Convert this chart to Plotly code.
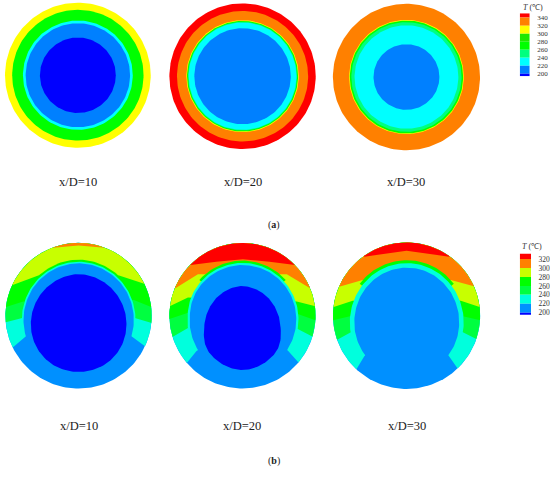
import numpy as np
import plotly.graph_objects as go

W, H = 550, 477
RED, ORANGE, YELLOW, YGREEN = "#ff0000", "#ff8000", "#ffff00", "#c8ff00"
GREEN, LIME, SPRING, AQUA, CYAN = "#00ff00", "#20e800", "#00ff80", "#00ffdd", "#00ffff"
SPRING_B, BLUE_A, BLUE_B, DARK = "#00ff40", "#0080ff", "#0090ff", "#0000ff"

CASES = ["x/D=10", "x/D=20", "x/D=30"]

# Panel (a): concentric bands, outermost first
A_CX = [78.0, 243.0, 407.2]
A_CY = [75.7, 76.7, 77.5]
A1_R = [73.0, 65.8, 55.0, 52.3, 38.0]
A1_C = [YELLOW, GREEN, CYAN, BLUE_A, DARK]
A2_R = [73.3, 65.7, 56.3, 55.6, 54.6, 54.0, 48.3]
A2_C = [RED, ORANGE, YELLOW, GREEN, SPRING, CYAN, BLUE_A]
A3_R = [73.7, 57.5, 56.8, 55.2, 52.0, 33.0]
A3_C = [ORANGE, YELLOW, GREEN, SPRING, CYAN, BLUE_A]

# Panel (b): discs
B_CX = [78.7, 242.9, 407.3]
B_CY = [317.7, 317.7, 317.7]
B_R = [73.3, 73.2, 73.7]

# Panel (b): isotherm chains, left rim to right rim
B1_AQUA_X = [13.3, 26.0, 131.7, 145.0]
B1_AQUA_Y = [349.3, 338.3, 338.3, 348.3]
B1_SPRING_X = [5.7, 22.3, 135.0, 152.0]
B1_SPRING_Y = [324.3, 320.0, 320.0, 325.0]
B1_GREEN_X = [6.0, 23.3, 134.0, 151.5]
B1_GREEN_Y = [309.0, 303.3, 302.0, 309.0]
B1_YGREEN_X = [12.7, 38.3, 119.3, 144.0]
B1_YGREEN_Y = [286.7, 277.3, 277.3, 285.7]
B1_ORANGE_X = [53.3, 78.7, 105.0]
B1_ORANGE_Y = [249.3, 247.0, 249.3]

B2_AQUA_X = [187.3, 197.3, 288.3, 299.3]
B2_AQUA_Y = [365.0, 352.7, 352.7, 365.0]
B2_SPRING_X = [172.3, 188.3, 298.3, 313.3]
B2_SPRING_Y = [339.3, 330.0, 331.0, 339.0]
B2_GREEN_X = [169.7, 187.7, 298.3, 316.0]
B2_GREEN_Y = [321.0, 315.0, 316.0, 322.3]
B2_YGREEN_X = [170.0, 188.3, 297.3, 316.0]
B2_YGREEN_Y = [308.3, 299.3, 303.3, 308.3]
B2_ORANGE_X = [175.7, 198.3, 287.3, 310.7]
B2_ORANGE_Y = [290.0, 276.0, 276.0, 290.0]
B2_RED_X = [191.0, 216.7, 243.3, 270.0, 295.7]
B2_RED_Y = [266.7, 263.3, 261.0, 263.3, 266.7]

B3_AQUA_X = [357.7, 365.7, 449.0, 457.7]
B3_AQUA_Y = [370.7, 357.3, 357.3, 370.0]
B3_SPRING_X = [338.3, 353.3, 461.7, 476.7]
B3_SPRING_Y = [341.7, 333.3, 333.3, 341.0]
B3_GREEN_X = [333.7, 352.7, 461.7, 481.0]
B3_GREEN_Y = [322.3, 317.7, 317.7, 322.3]
B3_YGREEN_X = [334.3, 353.3, 461.7, 480.3]
B3_YGREEN_Y = [309.0, 302.7, 302.7, 309.0]
B3_ORANGE_X = [340.7, 363.3, 451.7, 474.0]
B3_ORANGE_Y = [288.3, 281.7, 281.7, 288.3]
B3_RED_X = [365.0, 407.3, 450.0]
B3_RED_Y = [258.3, 252.3, 258.3]

# Panel (b): inner body outlines, polar about a centre
B1_BODY_C = (78.8, 320.0)
B1_BODY_ANG = [-19, 0, 20, 40, 60, 90, 120, 140, 160, 180, 199]
B1_BODY_R = [56.0, 55.2, 54.8, 54.8, 54.8, 55.0, 54.8, 54.8, 54.8, 55.2, 56.0]
B2_BODY_C = (243.0, 318.0)
B2_BODY_ANG = [-37, -20, 0, 20, 40, 60, 75, 90, 105, 120, 140, 160, 180, 200, 217]
B2_BODY_R = [56.2, 55.0, 53.7, 52.8, 52.0, 51.5, 51.3, 51.3, 51.3, 51.5, 52.0, 52.6, 52.8, 54.5, 56.2]
B3_BODY_C = (407.5, 325.0)
B3_BODY_ANG = [-38, -20, 0, 20, 40, 60, 75, 90, 105, 120, 140, 160, 180, 200, 218]
B3_BODY_R = [52.8, 52.6, 52.5, 53.0, 54.0, 55.0, 55.5, 55.7, 55.5, 55.0, 54.0, 53.0, 52.5, 52.6, 52.8]
BODY_AQUA_PAD = [1.7, 2.2, 4.5]
BODY_GREEN_PAD = [3.7, 4.5, 7.5]

# Panel (b): coldest cores
CORE_ANG = [0, 30, 60, 90, 120, 150, 180, 210, 240, 270, 300, 330]
B1_CORE_C = (78.8, 325.0)
B1_CORE_R = [47.8, 47.6, 48.2, 49.3, 48.2, 47.6, 47.8, 48.8, 49.4, 49.3, 49.4, 48.8]
B2_CORE_C = (242.8, 330.0)
B2_CORE_R = [38.0, 38.5, 40.5, 42.5, 40.5, 38.5, 38.0, 41.5, 41.5, 42.5, 41.5, 41.5]

# Legends
A_TICKS = [340, 320, 300, 280, 260, 240, 220, 200]
A_EDGES = [350.9, 340, 320, 300, 280, 260, 240, 220, 200, 194]
A_COLS = [RED, ORANGE, YELLOW, LIME, GREEN, SPRING, CYAN, BLUE_A, DARK]
B_TICKS = [320, 300, 280, 260, 240, 220, 200]
B_EDGES = [332.7, 320, 300, 280, 260, 240, 220, 200, 195.6]
B_COLS = [RED, ORANGE, YGREEN, GREEN, SPRING_B, AQUA, BLUE_B, DARK]

fig = go.Figure()


def poly(x, y, color):
    fig.add_trace(go.Scatter(
        x=list(x), y=list(y), mode="lines", fill="toself", fillcolor=color,
        line=dict(width=0, color=color), hoverinfo="skip", showlegend=False))


def disc(cx, cy, r, color):
    t = np.radians(np.arange(0, 361, 2))
    poly(cx + r * np.cos(t), cy - r * np.sin(t), color)


def cap(cx, cy, r, xs, ys, color):
    """Region above an isotherm chain: chain, then rim arc back over the top."""
    a_r = np.arctan2(cy - ys[-1], xs[-1] - cx)
    a_l = np.arctan2(cy - ys[0], xs[0] - cx)
    if a_l < 0:
        a_l += 2 * np.pi
    t = np.linspace(a_r, a_l, 120)
    poly(list(xs) + list(cx + r * np.cos(t)), list(ys) + list(cy - r * np.sin(t)), color)


def arc_pts(c, ang, rad, pad=0.0):
    a = np.arange(ang[0], ang[-1] + 0.01, 2.0)
    r = np.interp(a, ang, rad) + pad
    t = np.radians(a)
    return c[0] + r * np.cos(t), c[1] - r * np.sin(t)


def ring_layer(c, ang, rad, pad, color):
    """Padded outline closed through the centre, so the closing edges stay under the body."""
    x, y = arc_pts(c, ang, rad, pad)
    poly(np.r_[x, c[0], x[0]], np.r_[y, c[1], y[0]], color)


def body_layer(c, ang, rad, color):
    """Outline closed a little below its corners (same colour as the disc there)."""
    x, y = arc_pts(c, ang, rad)
    low = max(y[0], y[-1]) + 4
    poly(np.r_[x, x[-1], x[0], x[0]], np.r_[y, low, low, y[0]], color)


def core(c, ang, rad, color):
    a = np.arange(0, 360, 2.0)
    r = np.interp(a, list(ang) + [360], list(rad) + [rad[0]])
    k = np.ones(11) / 11
    r = np.convolve(np.r_[r[-5:], r, r[:5]], k, mode="valid")
    t = np.radians(a)
    x, y = c[0] + r * np.cos(t), c[1] - r * np.sin(t)
    poly(np.r_[x, x[0]], np.r_[y, y[0]], color)


for cx, cy, rr, cc in zip(A_CX, A_CY, [A1_R, A2_R, A3_R], [A1_C, A2_C, A3_C]):
    for r, c in zip(rr, cc):
        disc(cx, cy, r, c)

PANELS = [
    [(B1_AQUA_X, B1_AQUA_Y, AQUA), (B1_SPRING_X, B1_SPRING_Y, SPRING_B), (B1_GREEN_X, B1_GREEN_Y, GREEN),
     (B1_YGREEN_X, B1_YGREEN_Y, YGREEN), (B1_ORANGE_X, B1_ORANGE_Y, ORANGE)],
    [(B2_AQUA_X, B2_AQUA_Y, AQUA), (B2_SPRING_X, B2_SPRING_Y, SPRING_B), (B2_GREEN_X, B2_GREEN_Y, GREEN),
     (B2_YGREEN_X, B2_YGREEN_Y, YGREEN), (B2_ORANGE_X, B2_ORANGE_Y, ORANGE), (B2_RED_X, B2_RED_Y, RED)],
    [(B3_AQUA_X, B3_AQUA_Y, AQUA), (B3_SPRING_X, B3_SPRING_Y, SPRING_B), (B3_GREEN_X, B3_GREEN_Y, GREEN),
     (B3_YGREEN_X, B3_YGREEN_Y, YGREEN), (B3_ORANGE_X, B3_ORANGE_Y, ORANGE), (B3_RED_X, B3_RED_Y, RED)],
]
BODIES = [(B1_BODY_C, B1_BODY_ANG, B1_BODY_R), (B2_BODY_C, B2_BODY_ANG, B2_BODY_R), (B3_BODY_C, B3_BODY_ANG, B3_BODY_R)]

for i in range(3):
    disc(B_CX[i], B_CY[i], B_R[i], BLUE_B)
    for xs, ys, col in PANELS[i]:
        cap(B_CX[i], B_CY[i], B_R[i], xs, ys, col)
    c, ang, rad = BODIES[i]
    ra = np.interp(np.arange(40, 141, 10.0), ang, rad)
    ring_layer(c, list(np.arange(40, 141, 10.0)), list(ra), BODY_GREEN_PAD[i], GREEN)
    ring_layer(c, ang, rad, BODY_AQUA_PAD[i], AQUA)
    body_layer(c, ang, rad, BLUE_B)

core(B1_CORE_C, CORE_ANG, B1_CORE_R, DARK)
core(B2_CORE_C, CORE_ANG, B2_CORE_R, DARK)

# legend bars on their own value axes
for edges, cols, xa, ya in [(A_EDGES, A_COLS, "x2", "y2"), (B_EDGES, B_COLS, "x3", "y3")]:
    for k, col in enumerate(cols):
        fig.add_trace(go.Bar(x=[0], y=[edges[k] - edges[k + 1]], base=[edges[k + 1]], width=[1],
                             marker=dict(color=col, line=dict(width=0)),
                             xaxis=xa, yaxis=ya, hoverinfo="skip", showlegend=False))

SERIF = "Liberation Serif"
notes = []
for cx, t in zip(A_CX, CASES):
    notes.append(dict(x=cx, y=183, text=t))
for cx, t in zip(B_CX, CASES):
    notes.append(dict(x=cx, y=429, text=t))
ann = [dict(n, xref="x", yref="y", showarrow=False, font=dict(family=SERIF, size=12.5, color="#222")) for n in notes]
ann += [
    dict(x=274.5, y=226, text="(<b>a</b>)", xref="x", yref="y", showarrow=False, font=dict(family=SERIF, size=10, color="#222")),
    dict(x=274.5, y=464, text="(<b>b</b>)", xref="x", yref="y", showarrow=False, font=dict(family=SERIF, size=10, color="#222")),
    dict(x=533.5, y=7.5, text="<i>T</i> (℃)", xref="x", yref="y", showarrow=False, font=dict(family=SERIF, size=8, color="#333")),
    dict(x=533, y=248, text="<i>T</i> (℃)", xref="x", yref="y", showarrow=False, font=dict(family=SERIF, size=8, color="#333")),
]

hidden = dict(visible=False, fixedrange=True)


def val_axis(anchor, dom, rng, ticks, size):
    return dict(domain=dom, range=rng, anchor=anchor, side="right", tickvals=ticks, ticks="outside", ticklen=5,
                tickcolor="rgba(0,0,0,0)", showline=False, showgrid=False, zeroline=False, fixedrange=True,
                tickfont=dict(family=SERIF, size=size, color="#333"))


fig.update_layout(
    width=W, height=H, autosize=False, margin=dict(l=0, r=0, t=0, b=0),
    paper_bgcolor="white", plot_bgcolor="rgba(0,0,0,0)", barmode="overlay", annotations=ann,
    xaxis=dict(range=[0, W], domain=[0, 1], **hidden),
    yaxis=dict(range=[H, 0], domain=[0, 1], **hidden),
    xaxis2=dict(domain=[520.7 / W, 530.7 / W], range=[-0.5, 0.5], anchor="y2", **hidden),
    yaxis2=val_axis("x2", [1 - 76.7 / H, 1 - 13.3 / H], [194, 350.9], A_TICKS, 7),
    xaxis3=dict(domain=[520.7 / W, 532 / W], range=[-0.5, 0.5], anchor="y3", **hidden),
    yaxis3=val_axis("x3", [1 - 316.7 / H, 1 - 255 / H], [195.6, 332.7], B_TICKS, 7.5),
)

fig.write_html("out.html", config=dict(displayModeBar=False),
               post_script="document.body.style.margin='0';document.documentElement.style.overflow='hidden';")
